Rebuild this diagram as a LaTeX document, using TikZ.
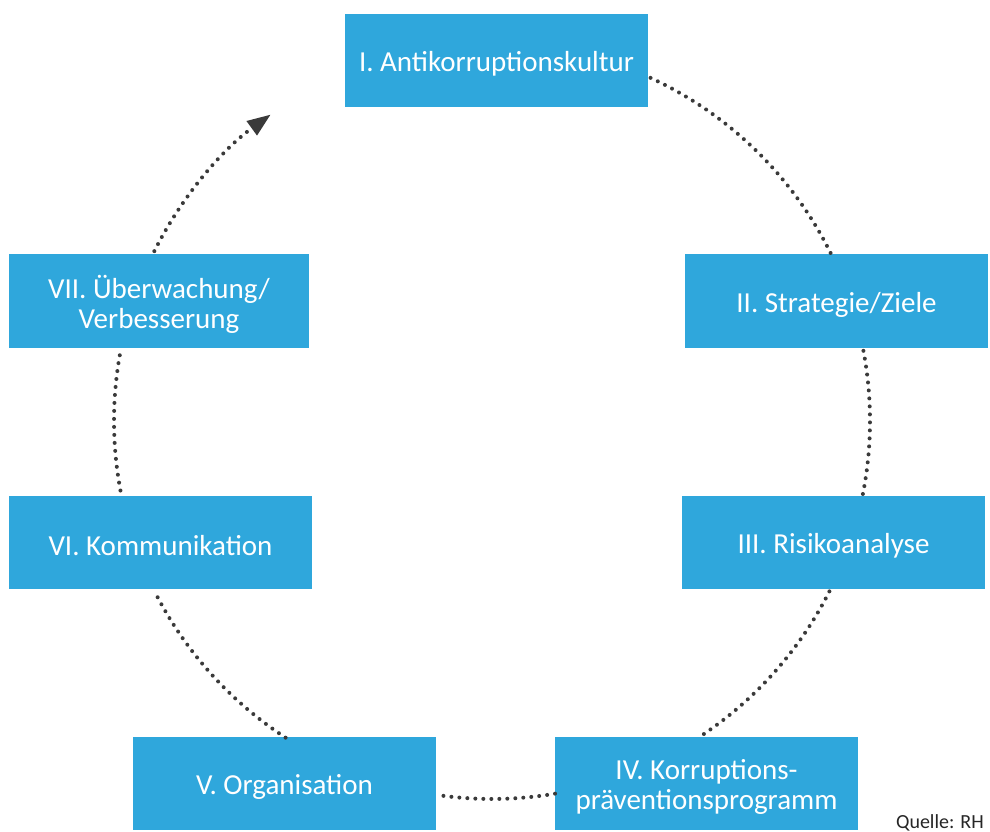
\documentclass[tikz,border=0pt]{standalone}
\usepackage{fontspec}
\setmainfont{Carlito}
\usetikzlibrary{arrows.meta}
\definecolor{boxblue}{RGB}{47,167,220}
\definecolor{dotgray}{RGB}{58,58,58}
\begin{document}
\begin{tikzpicture}[x=1pt,y=1pt,
  stage/.style={fill=boxblue, minimum width=303pt, minimum height=93.5pt, inner sep=0pt},
  stagetext/.style={text=white, align=center, inner sep=0pt, yshift=-3.5pt,
    font=\fontsize{29}{30}\selectfont},
  dots/.style={draw=dotgray, line width=4pt, line cap=round, dash pattern=on 0pt off 8pt},
  tip/.style={-{Triangle[length=23pt,width=18pt,line width=0pt]}}]
\useasboundingbox (0,0) rectangle (990,832);
\coordinate (c) at (492,411);
\node[stage, label={[stagetext,name=t1]center:I. Antikorruptionskultur}] (s1) at (496.5,771.5) {};
\node[stage, label={[stagetext,name=t2]center:II. Strategie/Ziele}] (s2) at (836.5,531) {};
\node[stage, label={[stagetext,name=t3]center:III. Risikoanalyse}] (s3) at (833.5,289.5) {};
\node[stage, label={[stagetext,name=t4]center:IV. Korruptions-\\präventionsprogramm}] (s4) at (706.5,48.5) {};
\node[stage, label={[stagetext,name=t5]center:V. Organisation}] (s5) at (284.5,48.5) {};
\node[stage, label={[stagetext,name=t6]center:VI. Kommunikation}] (s6) at (160.5,289.5) {};
\node[stage, minimum width=300pt, label={[stagetext,name=t7]center:VII. Überwachung/\\Verbesserung}] (s7) at (159,531) {};
\draw[dots] ([shift={(65.2:378)}]c) arc[start angle=65.2, end angle=26.2, radius=378];
\draw[dots] ([shift={(10.7:378)}]c) arc[start angle=10.7, end angle=-11.2, radius=378];
\draw[dots] ([shift={(-26.8:378)}]c) arc[start angle=-26.8, end angle=-56.5, radius=378];
\draw[dots] ([shift={(-80.4:378)}]c) arc[start angle=-80.4, end angle=-98.5, radius=378];
\draw[dots] ([shift={(-123.1:378)}]c) arc[start angle=-123.1, end angle=-153.4, radius=378];
\draw[dots] ([shift={(-169.4:378)}]c) arc[start angle=-169.4, end angle=-190.8, radius=378];
\draw[dots, tip] ([shift={(153.3:378)}]c) arc[start angle=153.3, end angle=125.9, radius=378];
\node[anchor=base east, text=black!85, font=\fontsize{20}{24}\selectfont, inner sep=0pt] (src) at (984,3.5) {Quelle: RH};
\end{tikzpicture}
\end{document}
